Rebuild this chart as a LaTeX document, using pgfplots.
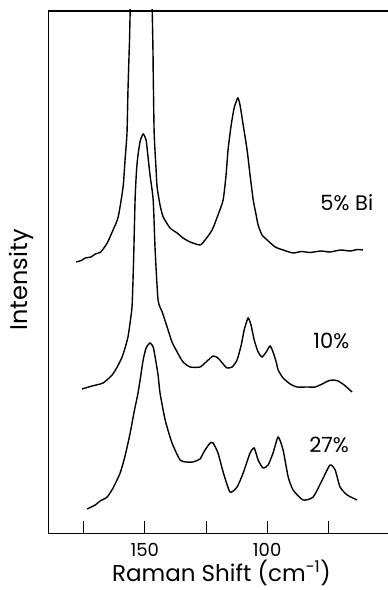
\documentclass[border=0pt]{standalone}
\usepackage{pgfplots}
\pgfplotsset{compat=1.18}
\usepackage{fontspec}
\setmainfont{Poppins}
\begin{document}
\begin{tikzpicture}[x=1pt,y=1pt]
\useasboundingbox (0,0) rectangle (388,590);
\begin{axis}[
  at={(48pt,57pt)}, anchor=south west,
  scale only axis, width=340pt, height=523pt,
  x dir=reverse, xmin=50.6, xmax=189.6, ymin=57, ymax=580,
  axis x line=bottom, axis y line=left,
  axis line style={-, line width=0.9pt},
  xtick={175,150,125,100,75}, xticklabels={,150,,100,},
  xtick pos=bottom, tick align=inside, major tick length=12pt,
  xtick style={line width=0.9pt, black},
  ytick=\empty,
  xticklabel style={font=\fontsize{18}{20}\selectfont, anchor=center, yshift=-17pt},
  xlabel={Raman Shift (cm\textsuperscript{-1})},
  ylabel={Intensity},
  every axis x label/.style={at={(axis description cs:0.51,0)}, yshift=-40pt, anchor=center, font=\fontsize{23}{26}\selectfont},
  every axis y label/.style={at={(axis description cs:0,0.484)}, xshift=-27pt, anchor=center, rotate=90, font=\fontsize{24}{27}\selectfont},
  clip mode=individual,
]
% 5% Bi
\addplot[black, line width=1.4pt, smooth, tension=0.35] coordinates {
(178.1,328)(176,329.5)(174.4,332)(172,333)(170.3,336)(168,338)(165.4,347)(163.0,360)(160.9,373)(158.9,403)(158.1,430)(157.3,457)(156.9,500)(156.4,540)(156.0,580)(151.5,1100)(147.0,580)(146.6,520)(146.2,457)(145.4,420)(145.0,403)(143.8,385)(142.5,373)(139.7,362)(136.8,357)(134.4,352)(131.5,348)(127.4,345)(125.4,350)(122.5,360)(120.1,375)(118.0,390)(116.8,415)(116.0,440)(114.7,465)(113.5,482)(112.0,492)(111.1,485)(109.8,465)(108.2,440)(107.0,415)(105.7,390)(104.5,375)(103.7,365)(102.1,355)(100.0,350)(96.7,343)(93.5,340)(89.4,337)(86,338.5)(82.4,337.5)(78,339)(74.3,338)(70,340)(66.1,339)(63,340.5)(60.8,340)
};
% 10%
\addplot[black, line width=1.4pt, smooth, tension=0.35] coordinates {
(175.7,201)(171.6,204)(167.1,207)(163.4,215)(161.3,223)(159.3,233)(158.1,242)(156.9,253)(156.0,268)(155.2,285)(154.6,330)(154.0,390)(153.4,420)(152.8,435)(151.9,449)(150.7,456)(149.5,450)(148.7,433)(147.9,415)(146.6,390)(145.8,340)(144.6,290)(142.9,278)(140.9,263)(138.9,248)(136.8,238)(134.4,228)(131.5,223)(127.4,223)(125.0,228)(122.1,234)(120.1,232)(118.0,226)(116.4,222)(114.3,223)(112.3,230)(110.6,245)(109.4,260)(107.8,272)(106.6,265)(105.3,250)(103.7,238)(102.1,233)(100.4,238)(98.8,244)(97.6,238)(96.3,228)(95.5,220)(93.5,212)(90.6,206)(87.8,203)(83.7,203)(80.4,203)(77.5,206)(75.1,209)(73.0,210)(71.0,209)(68.5,205)(65.3,198)
};
% 27%
\addplot[black, line width=1.4pt, smooth, tension=0.35] coordinates {
(173.6,81)(170.3,85)(168.3,89)(165.4,93)(163.0,102)(160.1,117)(158.1,134)(156.0,157)(154.4,178)(152.8,197)(151.5,217)(150.7,230)(149.5,242)(147.9,247)(146.6,243)(145.8,233)(144.6,215)(143.8,197)(141.7,170)(138.9,147)(135.6,130)(133.1,128)(130.3,128)(128.2,130)(127.4,131)(125.4,140)(123.3,147)(122.1,147)(120.1,137)(118.0,118)(115.2,98)(112.3,103)(109.8,117)(107.0,137)(105.3,142)(103.7,130)(101.7,122)(99.6,125)(97.6,137)(95.5,153)(93.5,140)(91.4,113)(89.4,100)(85.3,90)(81.2,93)(77.5,110)(74.3,125)(72.2,120)(70.2,103)(67.3,95)(63.2,90)
};
\draw[line width=1.6pt, black] (axis cs:189.8,578.8) -- (axis cs:50.6,578.8);
\node[anchor=west, font=\fontsize{21}{24}\selectfont, inner sep=0pt] at (axis cs:78.3,387) {5\% Bi};
\node[anchor=west, font=\fontsize{21}{24}\selectfont, inner sep=0pt] at (axis cs:81.2,249) {10\%};
\node[anchor=west, font=\fontsize{21}{24}\selectfont, inner sep=0pt] at (axis cs:82.85,145) {27\%};
\end{axis}
\end{tikzpicture}
\end{document}
